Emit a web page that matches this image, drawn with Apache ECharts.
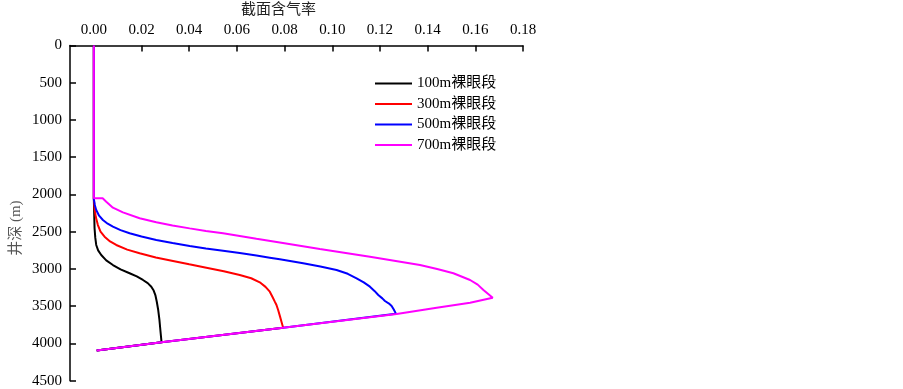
<!DOCTYPE html>
<html>
<head>
<meta charset="utf-8">
<script src="https://cdn.jsdelivr.net/npm/echarts@6/dist/echarts.min.js"></script>
<style>html,body{margin:0;padding:0;background:#fff}#c{width:903px;height:389px}</style>
</head>
<body>
<div id="c"></div>
<script>
// x tick labels
var xTicks = [0, 0.02, 0.04, 0.06, 0.08, 0.10, 0.12, 0.14, 0.16, 0.18];
var seriesNames = ['100m裸眼段', '300m裸眼段', '500m裸眼段', '700m裸眼段'];
// [gas fraction, depth m]
var s100 = [[0,0],[0,2060],[0.0001,2200],[0.0003,2454],[0.0006,2580],[0.0010,2678],[0.0018,2750],[0.0031,2813],[0.0052,2885],[0.0080,2947],[0.0112,3005],[0.0150,3058],[0.0180,3100],[0.0206,3148],[0.0226,3190],[0.0241,3238],[0.0251,3290],[0.0258,3350],[0.0264,3440],[0.0270,3551],[0.0275,3680],[0.0279,3819],[0.0284,3985],[0.0012,4095]];
var s300 = [[0,0],[0,2060],[0.0003,2186],[0.0008,2300],[0.0017,2410],[0.0028,2500],[0.0045,2567],[0.0068,2630],[0.0094,2678],[0.0140,2740],[0.0192,2790],[0.0260,2845],[0.0332,2893],[0.0400,2938],[0.0472,2983],[0.0545,3030],[0.0612,3081],[0.0660,3125],[0.0696,3179],[0.0720,3240],[0.0738,3305],[0.0750,3380],[0.0759,3439],[0.0766,3484],[0.0773,3551],[0.0781,3640],[0.0787,3708],[0.0794,3790],[0.0284,3985],[0.0012,4095]];
var s500 = [[0,0],[0,2060],[0.0004,2140],[0.0010,2208],[0.0022,2285],[0.0038,2343],[0.0058,2392],[0.0080,2432],[0.0112,2478],[0.0150,2521],[0.0200,2565],[0.0262,2611],[0.0330,2652],[0.0402,2692],[0.0470,2724],[0.0542,2755],[0.0612,2787],[0.0682,2820],[0.0738,2848],[0.0780,2870],[0.0878,2924],[0.0950,2968],[0.1018,3014],[0.1065,3065],[0.1102,3125],[0.1132,3180],[0.1158,3238],[0.1177,3295],[0.1193,3350],[0.1210,3395],[0.1221,3430],[0.1238,3465],[0.1249,3497],[0.1258,3545],[0.1267,3600],[0.0794,3790],[0.0284,3985],[0.0012,4095]];
var s700 = [[0,0],[0,2052],[0.0037,2052],[0.0052,2097],[0.0080,2177],[0.0122,2240],[0.0192,2320],[0.0262,2374],[0.0330,2416],[0.0402,2455],[0.0470,2490],[0.0542,2521],[0.0612,2558],[0.0682,2595],[0.0780,2645],[0.0948,2732],[0.1158,2835],[0.1368,2947],[0.1440,3000],[0.1508,3058],[0.1578,3148],[0.1610,3210],[0.1634,3282],[0.1673,3386],[0.1578,3453],[0.1438,3520],[0.1270,3605],[0.0794,3790],[0.0284,3985],[0.0012,4095]];

var serif = "'Liberation Serif','Times New Roman','Noto Sans CJK SC',serif";
var chart = echarts.init(document.getElementById('c'), null, {renderer: 'canvas'});
function mk(name, data, color) {
  return {name: name, type: 'line', data: data, showSymbol: false, symbol: 'none',
    lineStyle: {color: color, width: 2}, itemStyle: {color: color}, animation: false};
}
chart.setOption({
  animation: false,
  grid: {left: 70, top: 45.5, right: 380, bottom: 8.3, containLabel: false, outerBoundsMode: 'none'},
  legend: {
    orient: 'vertical', left: 370, top: 71, itemWidth: 37, itemHeight: 14, itemGap: 5.5,
    icon: 'path://M0,6 L37,6 L37,8 L0,8 Z',
    textStyle: {fontFamily: serif, fontSize: 15, color: '#000'},
    data: seriesNames
  },
  xAxis: {
    type: 'value', position: 'top', min: -0.01, max: 0.18,
    name: '截面含气率', nameLocation: 'middle', nameGap: 28, nameMoveOverlap: false,
    nameTextStyle: {fontFamily: serif, fontSize: 15, color: '#222', padding: [0, 36, 0, 0]},
    axisLine: {show: true, onZero: false, lineStyle: {color: '#000', width: 1.5}},
    axisTick: {show: true, inside: true, length: 6, customValues: xTicks, lineStyle: {color: '#000', width: 1.5}},
    axisLabel: {customValues: xTicks, margin: 8, fontFamily: serif, fontSize: 15, color: '#000',
      formatter: function (v) { return v.toFixed(2); }},
    splitLine: {show: false}
  },
  yAxis: {
    type: 'value', inverse: true, min: 0, max: 4500, interval: 500,
    name: '井深 (m)', nameLocation: 'middle', nameGap: 46, nameRotate: 90, nameMoveOverlap: false,
    nameTextStyle: {fontFamily: serif, fontSize: 15, color: '#555', padding: [0, 30, 0, 0]},
    axisLine: {show: true, onZero: false, lineStyle: {color: '#000', width: 1.5}},
    axisTick: {show: true, inside: true, length: 6, lineStyle: {color: '#000', width: 1.5}},
    axisLabel: {margin: 8, fontFamily: serif, fontSize: 15, color: '#000',
      formatter: function (v) { return String(v); }},
    splitLine: {show: false}
  },
  series: [
    mk(seriesNames[0], s100, '#000000'),
    mk(seriesNames[1], s300, '#ff0000'),
    mk(seriesNames[2], s500, '#0000ff'),
    mk(seriesNames[3], s700, '#ff00ff')
  ]
});
</script>
</body>
</html>
